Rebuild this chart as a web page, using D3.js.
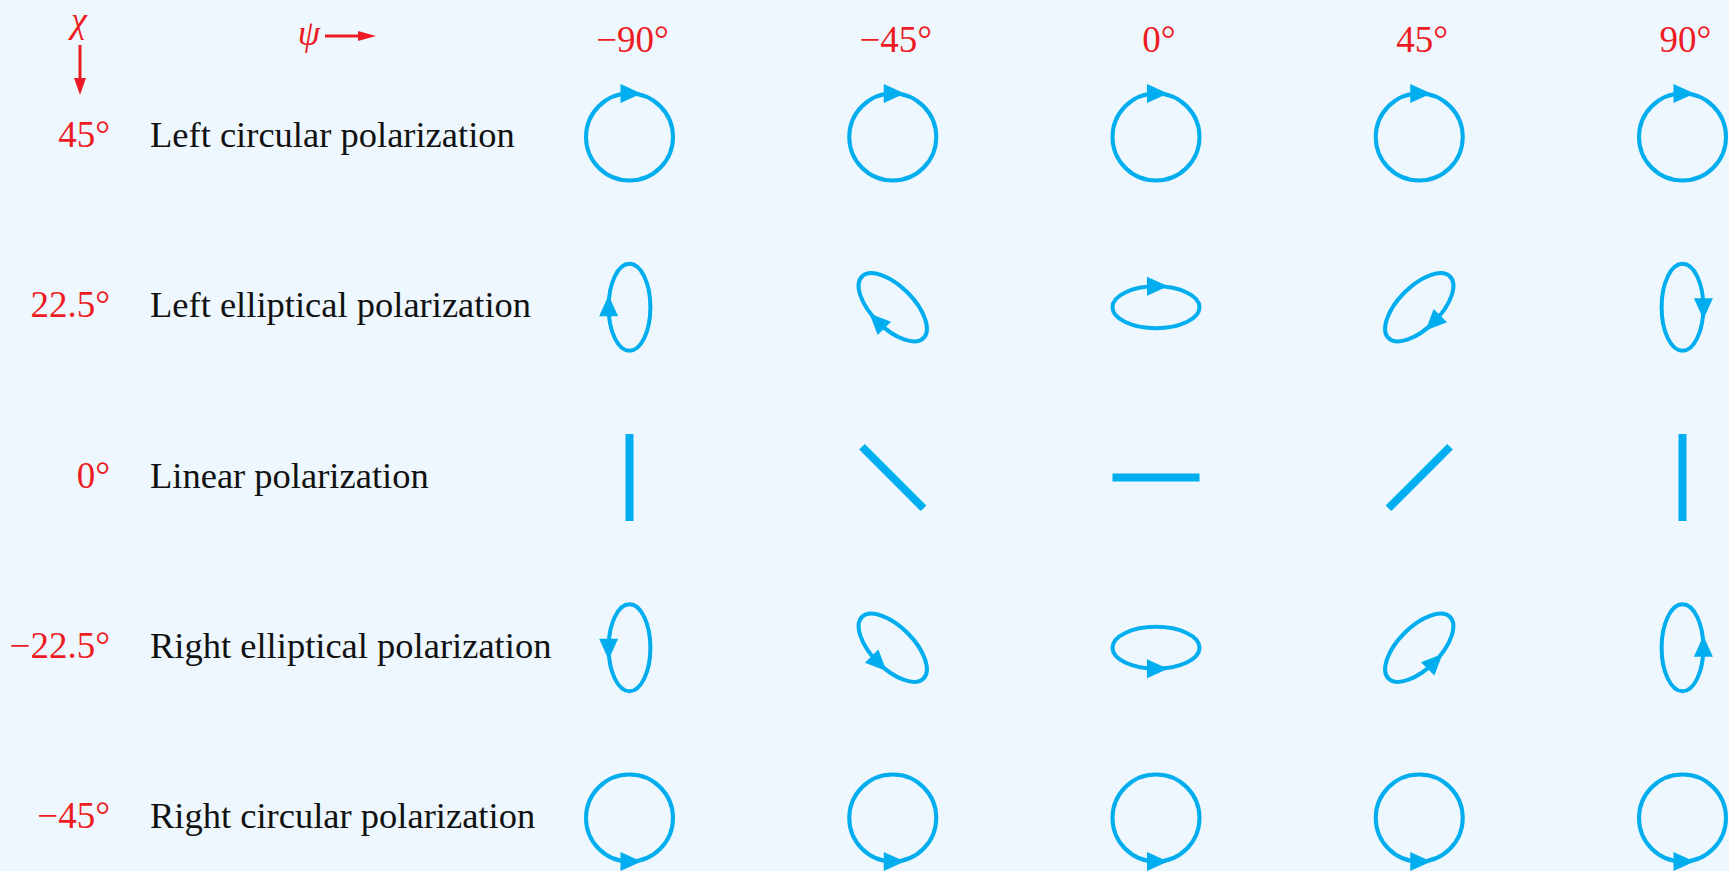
<!DOCTYPE html>
<html>
<head>
<meta charset="utf-8">
<script src="https://cdn.jsdelivr.net/npm/d3@7"></script>
<style>
  html, body { margin: 0; padding: 0; background: #edf7fd; }
  svg { display: block; }
</style>
</head>
<body>
<div id="chart"></div>
<script>
// orientation angle psi (columns) and ellipticity angle chi (rows)
const psiValues = [-90, -45, 0, 45, 90];
const psiLabels = ['\u221290\u00b0', '\u221245\u00b0', '0\u00b0', '45\u00b0', '90\u00b0'];
const chiValues = [45, 22.5, 0, -22.5, -45];
const chiLabels = ['45\u00b0', '22.5\u00b0', '0\u00b0', '\u221222.5\u00b0', '\u221245\u00b0'];
const rowNames = [
  'Left circular polarization',
  'Left elliptical polarization',
  'Linear polarization',
  'Right elliptical polarization',
  'Right circular polarization'
];
// minor / major axis ratio of each row, as drawn
const axisRatio = [1, 0.48, 0, 0.48, 1];
// where the arrowhead sits on each ellipse (screen direction from centre, deg, 0 = right, 90 = down)
const arrowAt = [
  [-90, -90, -90, -90, -90],
  [180, 135, -90, 45, 0],
  null,
  [180, 135, 90, 45, 0],
  [90, 90, 90, 90, 90]
];

const width = 1729, height = 871;
const BLUE = '#00aeef', RED = '#ed1c24';
const SERIF = '"Liberation Serif", monospace';
const semiMajor = 43.5;

const svg = d3.select('#chart').append('svg')
  .attr('width', width)
  .attr('height', height);

svg.append('rect').attr('width', width).attr('height', height).attr('fill', '#edf7fd');

const x = d3.scalePoint().domain(psiValues).range([629.5, 1682.5]);
const y = d3.scalePoint().domain(chiValues).range([137, 818]);

// column headers
svg.append('g').selectAll('text')
  .data(psiValues)
  .join('text')
  .attr('x', d => x(d) + 3)
  .attr('y', 52)
  .attr('text-anchor', 'middle')
  .attr('fill', RED)
  .attr('font-family', SERIF)
  .attr('font-size', 37)
  .text((d, i) => psiLabels[i]);

// row labels
const rows = svg.append('g').selectAll('g')
  .data(chiValues)
  .join('g')
  .attr('transform', d => `translate(0,${y(d) + 10})`);

rows.append('text')
  .attr('x', 110)
  .attr('text-anchor', 'end')
  .attr('fill', RED)
  .attr('font-family', SERIF)
  .attr('font-size', 37)
  .text((d, i) => chiLabels[i]);

rows.append('text')
  .attr('x', 150)
  .attr('fill', '#111')
  .attr('font-family', SERIF)
  .attr('font-size', 36.5)
  .text((d, i) => rowNames[i]);

// axis hints: chi with down arrow, psi with right arrow
const hint = svg.append('g').attr('fill', RED).attr('stroke', RED);
hint.append('text').attr('x', 79).attr('y', 32).attr('text-anchor', 'middle')
  .attr('stroke', 'none').attr('font-family', SERIF)
  .attr('font-size', 36).attr('font-style', 'italic').text('\u03c7');
hint.append('line').attr('x1', 80).attr('y1', 45).attr('x2', 80).attr('y2', 80).attr('stroke-width', 3);
hint.append('path').attr('d', 'M74,78 L86,78 L80,95 Z').attr('stroke', 'none');
hint.append('text').attr('x', 309).attr('y', 45).attr('text-anchor', 'middle')
  .attr('stroke', 'none').attr('font-family', SERIF)
  .attr('font-size', 36).attr('font-style', 'italic').text('\u03c8');
hint.append('line').attr('x1', 325).attr('y1', 36).attr('x2', 360).attr('y2', 36).attr('stroke-width', 3);
hint.append('path').attr('d', 'M358,31 L358,41 L376,36 Z').attr('stroke', 'none');

// cells
const cells = [];
chiValues.forEach((chi, r) => {
  psiValues.forEach((psi, c) => {
    cells.push({ chi, psi, r, c, ratio: axisRatio[r], arrow: arrowAt[r] ? arrowAt[r][c] : null });
  });
});

const rad = Math.PI / 180;
const marks = svg.append('g');

cells.forEach(d => {
  const cx = x(d.psi), cy = y(d.chi);
  const a = semiMajor, b = semiMajor * d.ratio;
  const U = [Math.cos(d.psi * rad), -Math.sin(d.psi * rad)];
  const V = [Math.sin(d.psi * rad), Math.cos(d.psi * rad)];

  if (d.ratio === 0) {
    marks.append('line')
      .attr('x1', cx - a * U[0]).attr('y1', cy - a * U[1])
      .attr('x2', cx + a * U[0]).attr('y2', cy + a * U[1])
      .attr('stroke', BLUE)
      .attr('stroke-width', 8);
    return;
  }

  marks.append('ellipse')
    .attr('cx', cx).attr('cy', cy)
    .attr('rx', a).attr('ry', b)
    .attr('transform', `rotate(${-d.psi},${cx},${cy})`)
    .attr('fill', 'none')
    .attr('stroke', BLUE)
    .attr('stroke-width', 4);

  // arrowhead position and tangent
  const dir = [Math.cos(d.arrow * rad), Math.sin(d.arrow * rad)];
  const du = dir[0] * U[0] + dir[1] * U[1];
  const dv = dir[0] * V[0] + dir[1] * V[1];
  const t = Math.atan2(dv / b, du / a);
  const px = cx + a * Math.cos(t) * U[0] + b * Math.sin(t) * V[0];
  const py = cy + a * Math.cos(t) * U[1] + b * Math.sin(t) * V[1];
  let tx = -a * Math.sin(t) * U[0] + b * Math.cos(t) * V[0];
  let ty = -a * Math.sin(t) * U[1] + b * Math.cos(t) * V[1];
  if (d.chi < 0) { tx = -tx; ty = -ty; } // right-handed turns the other way
  const ang = Math.atan2(ty, tx) / rad;

  marks.append('path')
    .attr('d', 'M-9,-9.5 L12,0 L-9,9.5 Z')
    .attr('transform', `translate(${px},${py}) rotate(${ang})`)
    .attr('fill', BLUE);
});
</script>
</body>
</html>
